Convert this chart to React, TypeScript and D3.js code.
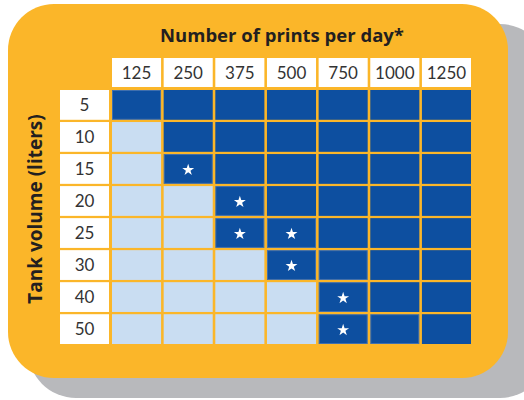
import React, { useEffect, useRef } from "react";
import * as d3 from "d3";

const printsPerDay = ["125", "250", "375", "500", "750", "1000", "1250"];
const tankVolumes = ["5", "10", "15", "20", "25", "30", "40", "50"];
// index of the first dark (recommended) column in each row
const firstDarkCol = [0, 1, 1, 2, 2, 3, 4, 4];
// cells marked with a star: [tank volume, prints per day]
const starCells = [
  ["15", "250"],
  ["20", "375"],
  ["25", "375"],
  ["25", "500"],
  ["30", "500"],
  ["40", "750"],
  ["50", "750"],
];
// cells with a lighter outline
const outlinedCells = [
  ["5", "125"],
  ["15", "250"],
  ["20", "375"],
  ["25", "375"],
  ["25", "500"],
  ["30", "500"],
  ["30", "750"],
  ["40", "750"],
  ["50", "750"],
  ["50", "1000"],
];

const App = () => {
  const svgRef = useRef(null);
  const width = 524;
  const height = 400;

  useEffect(() => {
    const svgEl = d3.select(svgRef.current);
    svgEl.selectAll("*").remove();

    const font = "Lato, 'Open Sans', sans-serif";
    const boldFont = "'Open Sans', Lato, sans-serif";
    const yellow = "#fbb629";
    const dark = "#0d4fa0";
    const light = "#c9ddf2";

    // shadow and panel
    svgEl
      .append("rect")
      .attr("x", 28)
      .attr("y", 24)
      .attr("width", 520)
      .attr("height", 374)
      .attr("rx", 48)
      .attr("fill", "#b8b9bc");
    svgEl
      .append("rect")
      .attr("x", 8)
      .attr("y", 4)
      .attr("width", 500)
      .attr("height", 374)
      .attr("rx", 46)
      .attr("fill", yellow);

    const x = d3
      .scaleBand()
      .domain(printsPerDay)
      .range([112, 471])
      .paddingInner(0.05);

    const y = d3
      .scaleBand()
      .domain(tankVolumes)
      .range([90, 344])
      .paddingInner(0.07);

    // title
    svgEl
      .append("text")
      .attr("x", 282)
      .attr("y", 42)
      .attr("text-anchor", "middle")
      .attr("font-family", boldFont)
      .attr("font-weight", 700)
      .attr("font-size", 18.5)
      .attr("fill", "#231f20")
      .text("Number of prints per day*");

    // y label
    svgEl
      .append("text")
      .attr("transform", `translate(42,${(113 + 305) / 2}) rotate(-90)`)
      .attr("text-anchor", "middle")
      .attr("font-family", boldFont)
      .attr("font-weight", 700)
      .attr("font-size", 19)
      .attr("fill", "#231f20")
      .text("Tank volume (liters)");

    // column headers
    const colHead = svgEl.append("g").attr("class", "col-head");
    colHead
      .selectAll("rect")
      .data(printsPerDay)
      .join("rect")
      .attr("x", (d) => x(d))
      .attr("y", 58)
      .attr("width", x.bandwidth())
      .attr("height", 29)
      .attr("fill", "#fff");
    colHead
      .selectAll("text")
      .data(printsPerDay)
      .join("text")
      .attr("x", (d) => x(d) + x.bandwidth() / 2)
      .attr("y", 78.5)
      .attr("text-anchor", "middle")
      .attr("font-family", font)
      .attr("font-size", 17)
      .attr("fill", "#333")
      .text((d) => d);

    // row headers
    const rowHead = svgEl.append("g").attr("class", "row-head");
    rowHead
      .selectAll("rect")
      .data(tankVolumes)
      .join("rect")
      .attr("x", 60)
      .attr("y", (d) => y(d))
      .attr("width", 49)
      .attr("height", y.bandwidth())
      .attr("fill", "#fff");
    rowHead
      .selectAll("text")
      .data(tankVolumes)
      .join("text")
      .attr("x", 84.5)
      .attr("y", (d) => y(d) + y.bandwidth() / 2 + 6)
      .attr("text-anchor", "middle")
      .attr("font-family", font)
      .attr("font-size", 17)
      .attr("fill", "#333")
      .text((d) => d);

    // cells
    const cells = [];
    tankVolumes.forEach((v, i) => {
      printsPerDay.forEach((p, j) => {
        cells.push({
          v,
          p,
          darkCell: j >= firstDarkCol[i],
          star: starCells.some((s) => s[0] === v && s[1] === p),
          outline: outlinedCells.some((s) => s[0] === v && s[1] === p),
        });
      });
    });

    const cellG = svgEl.append("g").attr("class", "cells");
    cellG
      .selectAll("rect")
      .data(cells)
      .join("rect")
      .attr("x", (d) => x(d.p) + (d.outline ? 0.5 : 0))
      .attr("y", (d) => y(d.v) + (d.outline ? 0.5 : 0))
      .attr("width", (d) => x.bandwidth() - (d.outline ? 1 : 0))
      .attr("height", (d) => y.bandwidth() - (d.outline ? 1 : 0))
      .attr("fill", (d) => (d.darkCell ? dark : light))
      .attr("stroke", (d) => (d.outline ? "#3f6fae" : "none"))
      .attr("stroke-width", 1);

    const star = d3.symbol().type(d3.symbolStar).size(44);
    cellG
      .selectAll("path")
      .data(cells.filter((d) => d.star))
      .join("path")
      .attr(
        "transform",
        (d) =>
          `translate(${x(d.p) + x.bandwidth() / 2},${y(d.v) + y.bandwidth() / 2 + 1})`
      )
      .attr("d", star)
      .attr("fill", "#fff");
  }, []);

  return (
    <svg
      ref={svgRef}
      width={width}
      height={height}
      style={{ position: "absolute", left: 0, top: 0 }}
    />
  );
};

export default App;
